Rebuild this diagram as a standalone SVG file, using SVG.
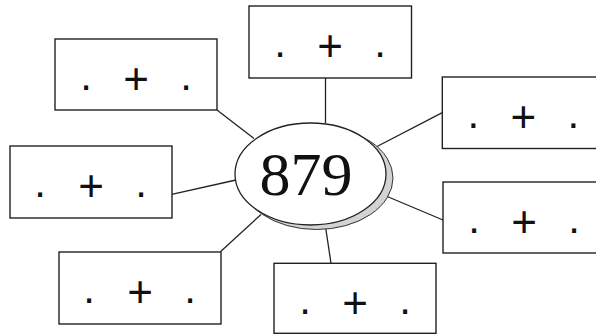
<svg xmlns="http://www.w3.org/2000/svg" width="596" height="335" viewBox="0 0 596 335">
<style>
.box{fill:#fff;stroke:#222;stroke-width:1.4}
.lbl{font-family:"Liberation Sans",Arial,sans-serif;font-size:44px;fill:#111;text-anchor:middle}
.dot{font-size:42px}
.conn line{stroke:#222;stroke-width:1.3}
.num{font-family:"Liberation Serif","Times New Roman",serif;font-size:62px;fill:#111;text-anchor:middle}
</style>
<rect width="596" height="335" fill="#fff"/>
<g class="conn" id="connectors">
<line x1="217" y1="110" x2="254" y2="138.5"/>
<line x1="171.7" y1="194.3" x2="236" y2="180"/>
<line x1="220.7" y1="251.5" x2="261" y2="214.5"/>
<line x1="325.5" y1="78" x2="325.5" y2="123"/>
<line x1="325.7" y1="228" x2="331" y2="263.3"/>
<line x1="377" y1="146.5" x2="442.3" y2="112.7"/>
<line x1="386" y1="196" x2="443" y2="220"/>
</g>
<g id="center">
<ellipse cx="316.5" cy="178" rx="76.5" ry="51.5" fill="#d3d3d3" stroke="#333" stroke-width="1"/>
<ellipse cx="310.5" cy="174" rx="75.5" ry="51" fill="#fff" stroke="#222" stroke-width="1.3"/>
<text class="num" x="306" y="195">879</text>
</g>
<g id="box-top-left" transform="translate(55,39)">
<rect class="box" width="162" height="71"/>
<text class="lbl"><tspan class="dot" x="31" y="51">.</tspan><tspan x="81" y="54.5">+</tspan><tspan class="dot" x="131" y="51">.</tspan></text>
</g>
<g id="box-top-center" transform="translate(249,6)">
<rect class="box" width="162.5" height="72"/>
<text class="lbl"><tspan class="dot" x="31" y="51">.</tspan><tspan x="81" y="54.5">+</tspan><tspan class="dot" x="131" y="51">.</tspan></text>
</g>
<g id="box-left" transform="translate(10,146)">
<rect class="box" width="162" height="72"/>
<text class="lbl"><tspan class="dot" x="30" y="51">.</tspan><tspan x="81" y="54.5">+</tspan><tspan class="dot" x="131" y="51">.</tspan></text>
</g>
<g id="box-bottom-left" transform="translate(59,252)">
<rect class="box" width="162" height="72"/>
<text class="lbl"><tspan class="dot" x="30" y="51">.</tspan><tspan x="81" y="54.5">+</tspan><tspan class="dot" x="131" y="51">.</tspan></text>
</g>
<g id="box-bottom-center" transform="translate(274,263.3)">
<rect class="box" width="162" height="70"/>
<text class="lbl"><tspan class="dot" x="31" y="51">.</tspan><tspan x="81" y="54.5">+</tspan><tspan class="dot" x="131" y="51">.</tspan></text>
</g>
<g id="box-right-upper" transform="translate(442.3,77)">
<rect class="box" width="162" height="71.5"/>
<text class="lbl"><tspan class="dot" x="31" y="51">.</tspan><tspan x="81" y="54.5">+</tspan><tspan class="dot" x="131" y="51">.</tspan></text>
</g>
<g id="box-right-lower" transform="translate(443,182)">
<rect class="box" width="162" height="71"/>
<text class="lbl"><tspan class="dot" x="31" y="51">.</tspan><tspan x="81" y="54.5">+</tspan><tspan class="dot" x="131" y="51">.</tspan></text>
</g>
</svg>
